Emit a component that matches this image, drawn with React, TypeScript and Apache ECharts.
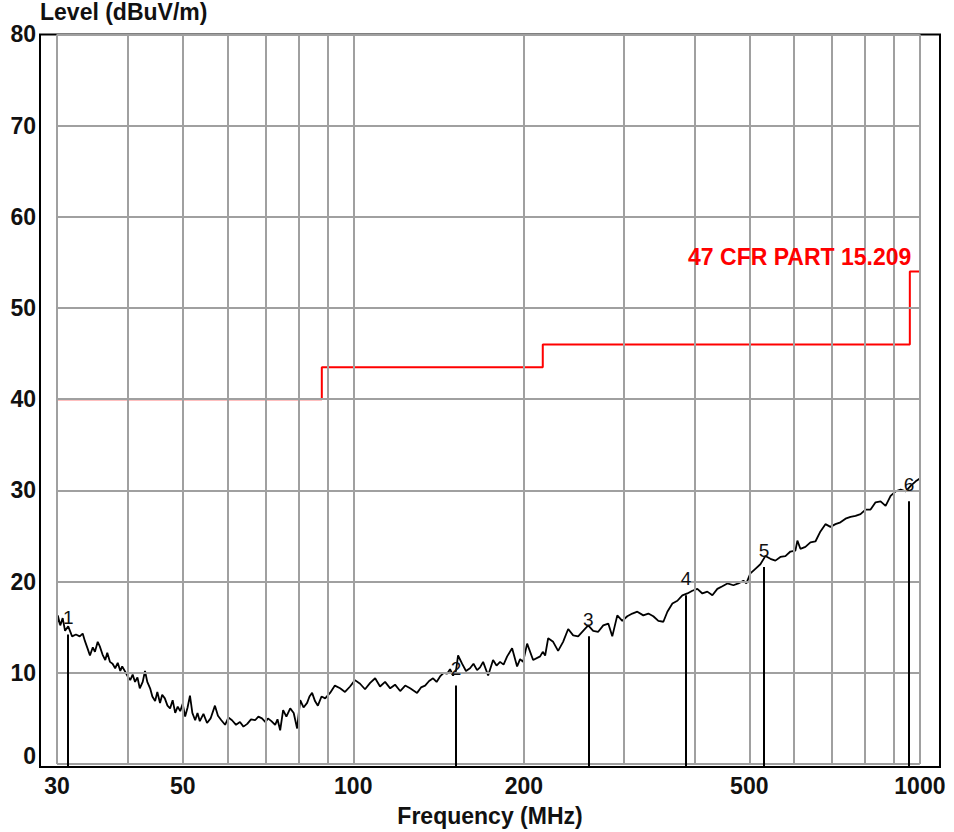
import React, { useEffect, useRef } from "react";
import * as echarts from "echarts";

// Measured trace (frequency in MHz, level in dBuV/m)
const freqs = [
  30.0, 30.1, 30.4, 30.7, 31.0, 31.4, 31.9, 32.4, 32.9, 33.3,
  33.6, 34.0, 34.3, 34.7, 35.0, 35.4, 35.7, 36.1, 36.5, 36.8,
  37.2, 37.6, 38.0, 38.4, 38.8, 39.1, 39.6, 40.0, 40.4, 40.8,
  41.2, 41.6, 42.0, 42.5, 42.9, 43.3, 43.8, 44.2, 44.7, 45.1,
  45.6, 46.0, 46.5, 47.0, 47.5, 48.0, 48.5, 49.0, 49.5, 50.0,
  50.5, 51.0, 51.5, 52.0, 52.6, 53.1, 53.6, 54.4, 55.2, 56.0,
  57.0, 57.7, 58.5, 59.4, 60.2, 61.1, 62.1, 63.1, 64.0, 65.0,
  66.0, 67.1, 68.0, 69.0, 70.0, 70.7, 71.7, 72.8, 73.5, 74.3,
  75.2, 76.2, 77.4, 78.5, 79.6, 80.6, 81.7, 82.9, 83.7, 84.6,
  85.6, 86.6, 87.9, 89.2, 91.0, 92.8, 94.8, 96.7, 98.7, 100.7,
  102.8, 104.9, 107.1, 109.3, 111.5, 113.8, 116.2, 118.5, 121.0, 123.5,
  126.0, 129.6, 131.7, 133.9, 136.1, 138.3, 140.3, 142.3, 144.4, 146.4,
  148.2, 150.0, 151.8, 153.1, 155.6, 158.1, 160.7, 163.0, 165.4, 167.4,
  169.5, 173.0, 176.5, 179.0, 181.6, 184.2, 186.9, 190.7, 194.6, 197.0,
  199.4, 202.7, 207.7, 213.7, 216.0, 218.1, 220.8, 225.3, 229.9, 234.6,
  239.5, 244.4, 249.4, 254.5, 259.8, 265.1, 270.6, 276.2, 281.9, 286.5,
  292.4, 298.4, 304.5, 310.8, 317.2, 325.0, 331.7, 338.5, 345.5, 352.6,
  358.4, 365.8, 373.3, 380.9, 388.7, 396.7, 404.8, 413.2, 421.6, 430.3,
  439.1, 448.2, 457.4, 468.7, 478.3, 488.1, 494.0, 502.2, 512.5, 523.0,
  533.8, 544.7, 555.9, 567.3, 579.0, 590.9, 603.0, 607.9, 615.4, 628.0,
  641.0, 654.1, 667.6, 681.3, 695.3, 709.6, 724.2, 739.2, 754.4, 769.9,
  785.7, 801.9, 818.4, 835.2, 852.4, 870.0, 887.9, 906.1, 924.8, 943.9,
  963.3, 983.1, 1000,
];

const levels = [
  15.0, 16.3, 15.2, 16.0, 14.6, 15.1, 14.0, 14.2, 14.0, 14.3,
  13.5, 12.6, 11.9, 12.8, 12.3, 13.4, 12.9, 12.0, 11.4, 12.2,
  11.2, 11.0, 10.5, 11.1, 10.2, 10.7, 10.1, 9.6, 9.2, 9.8,
  9.0, 9.5, 8.3, 9.0, 10.2, 9.0, 8.3, 7.4, 6.9, 7.9,
  6.7, 7.6, 7.2, 6.4, 6.1, 7.0, 5.6, 6.3, 5.8, 6.6,
  5.2, 6.2, 7.5, 5.6, 4.8, 5.6, 4.7, 5.5, 4.5, 5.0,
  6.4, 5.3, 4.8, 4.3, 5.1, 4.8, 4.3, 4.6, 4.1, 4.4,
  4.9, 4.8, 5.2, 5.0, 4.6, 5.0, 4.7, 4.3, 4.9, 3.7,
  5.9, 5.2, 6.1, 5.6, 3.9, 7.0, 6.2, 6.7, 7.4, 7.8,
  6.9, 6.4, 7.4, 7.2, 7.8, 8.6, 8.3, 7.9, 8.5, 9.2,
  8.8, 8.2, 8.9, 9.4, 8.5, 9.0, 8.3, 8.7, 8.0, 8.6,
  8.3, 7.8, 8.4, 8.6, 9.1, 9.4, 9.0, 9.6, 10.0, 9.9,
  10.4, 9.7, 10.2, 11.9, 11.0, 10.2, 10.5, 11.0, 10.3, 10.6,
  11.2, 9.7, 11.4, 10.8, 11.2, 10.9, 11.8, 12.7, 10.7, 11.5,
  11.2, 13.2, 11.4, 11.8, 12.3, 11.9, 13.8, 13.4, 12.4, 13.4,
  14.8, 14.1, 14.0, 14.6, 15.2, 14.6, 14.5, 15.2, 15.4, 14.0,
  16.3, 15.7, 16.2, 16.5, 16.7, 16.3, 16.5, 16.2, 15.7, 15.6,
  16.7, 17.6, 17.9, 18.5, 18.7, 19.0, 19.2, 18.7, 18.9, 18.5,
  19.2, 19.5, 19.8, 19.6, 19.8, 20.1, 19.8, 20.9, 21.4, 21.9,
  22.8, 22.5, 22.3, 22.7, 22.8, 23.3, 23.4, 24.5, 23.6, 23.8,
  24.3, 24.4, 25.5, 26.3, 26.0, 26.3, 26.5, 26.9, 27.1, 27.2,
  27.4, 27.9, 27.9, 28.7, 28.8, 28.3, 29.4, 29.9, 30.1, 29.9,
  30.5, 31.0, 31.3,
];

// Limit line (47 CFR PART 15.209): band edges and levels
const limitFreqs = [30, 88, 216, 960, 1000];
const limitLevels = [40, 43.5, 46, 54];
const limitName = "47 CFR PART 15.209";

// Markers
const markerNames = ["1", "2", "3", "4", "5", "6"];
const markerFreqs = [31.4, 151.8, 260, 386.8, 530.7, 956.8];
const markerLevels = [14.2, 8.6, 14.0, 18.5, 21.6, 28.8];

// Axes
const yTicks = [0, 10, 20, 30, 40, 50, 60, 70, 80];
const xTickLabels = [30, 50, 100, 200, 500, 1000];
const xGridFreqs = [30, 40, 50, 60, 70, 80, 90, 100, 200, 300, 400, 500, 600, 700, 800, 900, 1000];
const xTitle = "Frequency (MHz)";
const yTitle = "Level (dBuV/m)";

const lg = (v: number) => Math.log10(v);
const FONT = "'Liberation Sans', Arial, sans-serif";
const FS = 23;

export default function App() {
  const ref = useRef<HTMLDivElement>(null);

  useEffect(() => {
    if (!ref.current) return;
    const chart = echarts.init(ref.current, undefined, { renderer: "svg" });

    const xLo = lg(30);
    const xHi = lg(1000);
    const xMin = xLo - 0.03;
    const xMax = xMin + 1.5884;
    const yMin = -0.327;
    const yMax = 80;

    const gridLines: any[] = [];
    xGridFreqs.forEach((f) => {
      gridLines.push([{ coord: [lg(f), 0] }, { coord: [lg(f), 80] }]);
    });
    yTicks.forEach((v) => {
      gridLines.push([{ coord: [xLo, v] }, { coord: [xHi, v] }]);
    });

    const limitData: number[][] = [];
    limitLevels.forEach((lvl, i) => {
      limitData.push([lg(limitFreqs[i]), lvl]);
      limitData.push([lg(limitFreqs[i + 1]), lvl]);
    });

    const traceData = freqs.map((f, i) => [lg(f), levels[i]]);

    const markerLines = markerFreqs.map((f, i) => [
      { coord: [lg(f), yMin] },
      { coord: [lg(f), markerLevels[i]] },
    ]);
    const markerPoints = markerFreqs.map((f, i) => ({
      coord: [lg(f), markerLevels[i]],
      value: markerNames[i],
    }));

    chart.setOption({
      animation: false,
      backgroundColor: "#ffffff",
      grid: {
        left: 40,
        right: 14,
        top: 33,
        bottom: 63,
        show: true,
        borderColor: "#000000",
        borderWidth: 2,
        backgroundColor: "transparent",
      },
      xAxis: {
        type: "value",
        min: xMin,
        max: xMax,
        name: xTitle,
        nameLocation: "middle",
        nameGap: 37,
        nameTextStyle: { fontFamily: FONT, fontWeight: "bold", fontSize: FS, color: "#111" },
        axisLine: { show: false },
        axisTick: { show: false },
        splitLine: { show: false },
        axisLabel: {
          customValues: xTickLabels.map((v) => lg(v)),
          formatter: (v: number) => String(Math.round(Math.pow(10, v))),
          fontFamily: FONT,
          fontWeight: "bold",
          fontSize: FS,
          color: "#111",
          margin: 7,
          hideOverlap: false,
        },
      },
      yAxis: {
        type: "value",
        min: yMin,
        max: yMax,
        name: yTitle,
        nameLocation: "end",
        nameGap: 16,
        nameTextStyle: {
          fontFamily: FONT,
          fontWeight: "bold",
          fontSize: FS,
          color: "#111",
          align: "left",
          verticalAlign: "middle",
        },
        axisLine: { show: false },
        axisTick: { show: false },
        splitLine: { show: false },
        axisLabel: {
          customValues: yTicks,
          formatter: (v: number) => (Math.round(v) === 0 ? "{z|0}" : "{n|" + Math.round(v) + "}"),
          margin: 4,
          hideOverlap: false,
          rich: {
            n: { fontFamily: FONT, fontWeight: "bold", fontSize: FS, color: "#111" },
            z: {
              fontFamily: FONT,
              fontWeight: "bold",
              fontSize: FS,
              color: "#111",
              padding: [0, 0, 16, 0],
            },
          },
        },
      },
      series: [
        {
          type: "line",
          name: "grid",
          data: [],
          silent: true,
          z: 1,
          markLine: {
            silent: true,
            symbol: ["none", "none"],
            label: { show: false },
            lineStyle: { color: "#a0a0a0", width: 2, type: "solid" },
            emphasis: { disabled: true },
            data: gridLines,
          },
        },
        {
          type: "line",
          name: "limit",
          data: limitData,
          showSymbol: false,
          silent: true,
          z: 2,
          lineStyle: { color: "#ff0000", width: 2 },
          markPoint: {
            symbol: "rect",
            symbolSize: 1,
            itemStyle: { color: "rgba(0,0,0,0)" },
            silent: true,
            label: {
              show: true,
              position: "left",
              distance: 0,
              offset: [2, -15],
              formatter: limitName,
              fontFamily: FONT,
              fontWeight: "bold",
              fontSize: FS,
              color: "#ff0000",
            },
            data: [{ coord: [lg(limitFreqs[3]), limitLevels[3]] }],
          },
        },
        {
          type: "line",
          name: "trace",
          data: traceData,
          showSymbol: false,
          silent: true,
          z: 3,
          lineStyle: { color: "#000000", width: 1.8 },
        },
        {
          type: "line",
          name: "markers",
          data: [],
          silent: true,
          z: 4,
          markLine: {
            silent: true,
            symbol: ["none", "none"],
            label: { show: false },
            lineStyle: { color: "#000000", width: 2, type: "solid" },
            emphasis: { disabled: true },
            data: markerLines,
          },
          markPoint: {
            symbol: "rect",
            symbolSize: 1,
            itemStyle: { color: "rgba(0,0,0,0)" },
            silent: true,
            label: {
              show: true,
              position: "inside",
              offset: [0, -17],
              formatter: (p: any) => p.value,
              fontFamily: FONT,
              fontSize: 19,
              color: "#111",
            },
            data: markerPoints,
          },
        },
      ],
    });

    return () => chart.dispose();
  }, []);

  return (
    <div
      ref={ref}
      style={{ position: "fixed", left: 0, top: 0, width: 954, height: 832, background: "#fff" }}
    />
  );
}
